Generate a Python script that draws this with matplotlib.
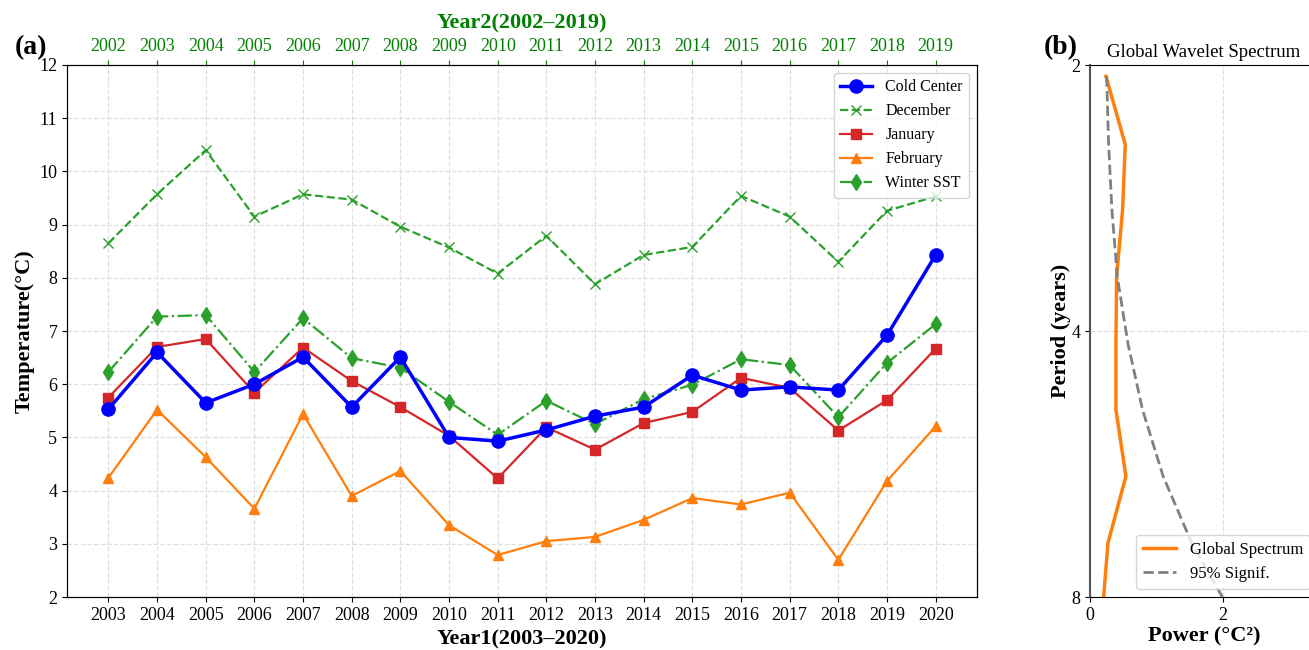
import numpy as np
import matplotlib.pyplot as plt
from matplotlib.ticker import FixedLocator, FixedFormatter, NullLocator

plt.rcParams['font.family'] = ['Liberation Serif', 'DejaVu Serif']

# datos de temperatura
year1 = np.arange(2003, 2021)
year2 = np.arange(2002, 2020)

cold_center = [5.53, 6.60, 5.65, 6.00, 6.51, 5.57, 6.51, 5.00, 4.93, 5.14,
               5.40, 5.57, 6.17, 5.89, 5.95, 5.89, 6.92, 8.43]
december = [8.65, 9.57, 10.40, 9.15, 9.57, 9.47, 8.96, 8.57, 8.08, 8.79,
            7.88, 8.43, 8.58, 9.54, 9.15, 8.30, 9.26, 9.53]
january = [5.75, 6.70, 6.85, 5.84, 6.69, 6.06, 5.57, 5.03, 4.23, 5.19,
           4.77, 5.27, 5.48, 6.12, 5.93, 5.13, 5.70, 6.67]
february = [4.24, 5.52, 4.63, 3.66, 5.44, 3.90, 4.37, 3.35, 2.79, 3.05,
            3.13, 3.45, 3.86, 3.74, 3.96, 2.70, 4.18, 5.21]
winter_sst = [6.23, 7.27, 7.30, 6.23, 7.24, 6.49, 6.31, 5.67, 5.05, 5.69,
              5.25, 5.72, 5.99, 6.47, 6.36, 5.38, 6.40, 7.13]

# espectro global de wavelet
period = [2.06, 2.46, 2.92, 3.47, 4.13, 4.91, 5.84, 6.95, 8.27]
global_power = [0.24, 0.53, 0.49, 0.40, 0.39, 0.39, 0.54, 0.27, 0.19]
signif_95 = [0.25, 0.28, 0.33, 0.41, 0.57, 0.79, 1.10, 1.53, 2.10]

fig = plt.figure(figsize=(13.09, 6.5), dpi=100)

ax = fig.add_axes([0.0512, 0.0815, 0.6952, 0.8185])
ax.plot(year1, cold_center, color='#0000ff', marker='o', ms=9.5, lw=2.5,
        label='Cold Center', zorder=5)
ax.plot(year1, december, color='#2ca02c', marker='x', ms=7, lw=1.6,
        ls='--', label='December')
ax.plot(year1, january, color='#d62728', marker='s', ms=7, lw=1.6,
        label='January')
ax.plot(year1, february, color='#ff7f0e', marker='^', ms=7, lw=1.6,
        label='February')
ax.plot(year1, winter_sst, color='#2ca02c', marker='d', ms=8, lw=1.6,
        ls='-.', label='Winter SST')

xlim = (2002.15, 2020.85)
ax.set_xlim(xlim)
ax.set_ylim(2, 12)
ax.set_xticks(year1)
ax.set_yticks(np.arange(2, 13, 1))
ax.tick_params(labelsize=13)
ax.grid(True, ls='--', color='#d8d8d8', lw=0.9, alpha=0.8)
ax.set_xlabel('Year1(2003–2020)', fontsize=16, fontweight='bold', labelpad=4)
ax.set_ylabel('Temperature(°C)', fontsize=16, fontweight='bold', labelpad=3)
ax.legend(loc='upper right', fontsize=11.5, framealpha=0.8)

# eje superior con el segundo rango de años
ax_top = ax.twiny()
ax_top.set_xlim(xlim[0] - 1, xlim[1] - 1)
ax_top.set_xticks(year2)
ax_top.tick_params(axis='x', colors='green', labelsize=13)
ax_top.set_xlabel('Year2(2002–2019)', fontsize=16, fontweight='bold',
                  color='green', labelpad=7)

fig.text(0.011, 0.916, '(a)', fontsize=20, fontweight='bold')

# panel (b)
axb = fig.add_axes([0.8327, 0.0815, 0.1742, 0.8185])
axb.plot(global_power, period, color='#ff7f0e', lw=2.5, label='Global Spectrum')
axb.plot(signif_95, period, color='gray', lw=2, ls='--', label='95% Signif.')
axb.set_yscale('log', base=2)
axb.set_ylim(8, 2)
axb.yaxis.set_major_locator(FixedLocator([2, 4, 8]))
axb.yaxis.set_major_formatter(FixedFormatter(['2', '4', '8']))
axb.yaxis.set_minor_locator(NullLocator())
axb.set_xlim(0, 3.43)
axb.set_xticks([0, 2])
axb.tick_params(labelsize=13)
axb.spines['left'].set_color('#555555')
axb.spines['left'].set_linewidth(1.5)
axb.grid(True, ls='--', color='#d8d8d8', lw=0.9, alpha=0.8)
axb.set_xlabel('Power (°C²)', fontsize=16, fontweight='bold', labelpad=2)
axb.set_ylabel('Period (years)', fontsize=16, fontweight='bold', labelpad=0)
axb.set_title('Global Wavelet Spectrum', fontsize=13.5, pad=6)
axb.legend(loc='lower right', fontsize=12, framealpha=0.8)

fig.text(0.797, 0.916, '(b)', fontsize=20, fontweight='bold')

fig.savefig('out.png', dpi=100)
